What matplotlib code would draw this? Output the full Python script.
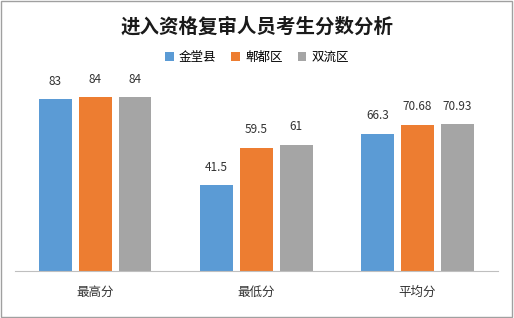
import numpy as np
import matplotlib.pyplot as plt

plt.rcParams['font.family'] = ['Noto Sans CJK SC', 'DejaVu Sans']

categories = ['最高分', '最低分', '平均分']
series_names = ['金堂县', '郫都区', '双流区']
jintang = [83, 41.5, 66.3]
pidu = [84, 59.5, 70.68]
shuangliu = [84, 61, 70.93]
colors = ['#5B9BD5', '#ED7D31', '#A5A5A5']

fig = plt.figure(figsize=(5.14, 3.18), dpi=100)
ax = fig.add_axes([0.029, 0.148, 0.94, 0.651])

x = np.arange(len(categories))
width = 0.2
offset = 0.248
for i, (vals, name, c) in enumerate(zip([jintang, pidu, shuangliu], series_names, colors)):
    pos = x + (i - 1) * offset
    ax.bar(pos, vals, width, color=c, label=name)
    for px, v in zip(pos, vals):
        ax.text(px, v + 5.5, f'{v:g}', ha='center', va='bottom', fontsize=8.5, color='#333333')

ax.set_xlim(-0.5, 2.5)
ax.set_ylim(0, 100)
ax.set_yticks([])
ax.set_xticks(x)
ax.set_xticklabels(categories, fontsize=9, color='#333333')
ax.tick_params(axis='x', length=0, pad=11)
for s in ['top', 'right', 'left']:
    ax.spines[s].set_visible(False)
ax.spines['bottom'].set_color('#BFBFBF')

fig.text(0.5, 0.915, '进入资格复审人员考生分数分析', ha='center', va='center',
         fontsize=14, fontweight='bold', color='#1a1a1a')
fig.legend(loc='center', bbox_to_anchor=(0.5, 0.82), ncol=3, frameon=False,
           fontsize=9, handlelength=0.7, handleheight=0.7, columnspacing=1.2,
           handletextpad=0.4)

fig.patches.append(plt.Rectangle((0.002, 0.003), 0.994, 0.993, transform=fig.transFigure,
                                 fill=False, edgecolor='#A0A0A0', linewidth=1))

fig.savefig('out.png', dpi=100)
